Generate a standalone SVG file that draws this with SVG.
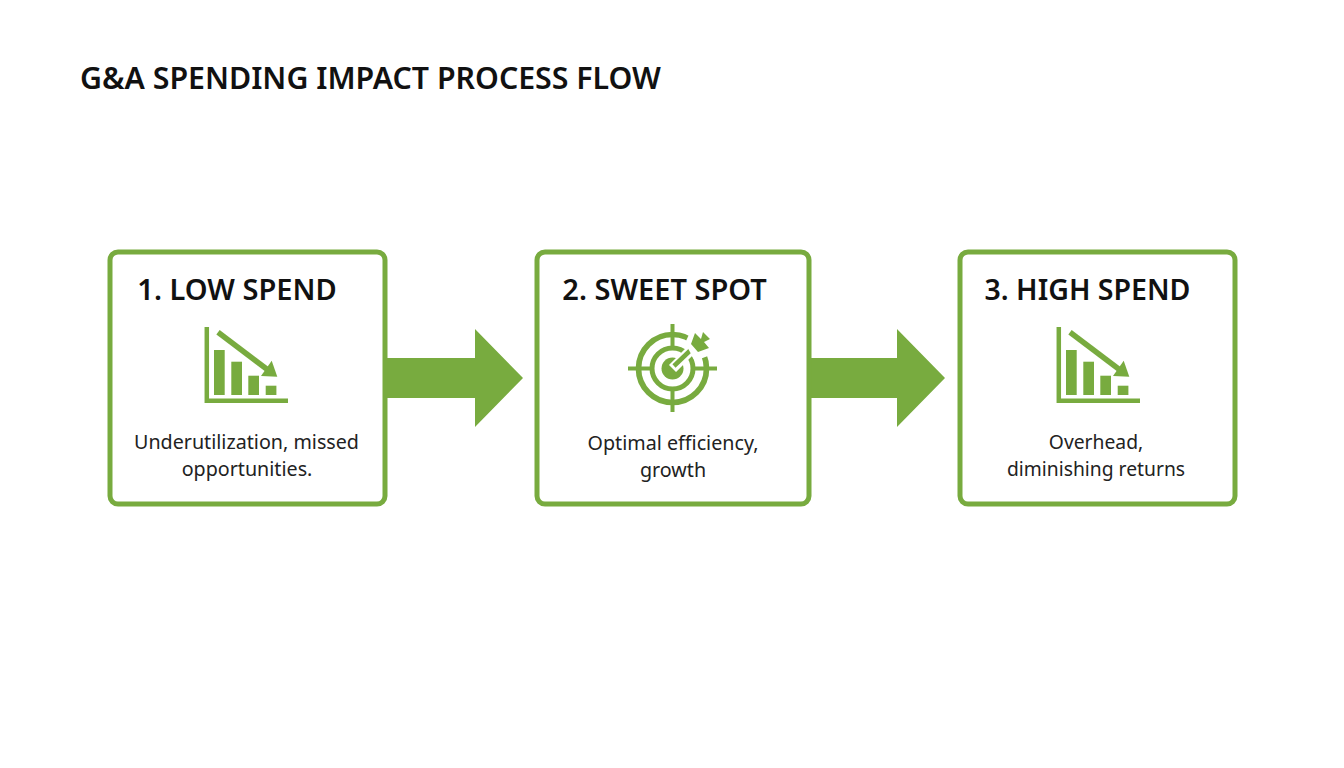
<svg xmlns="http://www.w3.org/2000/svg" width="1344" height="768" viewBox="0 0 1344 768">
<style>
.box{fill:#fff;stroke:#78ab3f;stroke-width:5}
.t{font-family:"Noto Sans","Open Sans",sans-serif;font-size:29px;font-weight:600;fill:#111;text-anchor:middle}
.d{font-family:"Noto Sans","Open Sans",sans-serif;font-size:19.7px;fill:#222;text-anchor:middle}
.g{fill:#78ab3f}
.l{fill:none;stroke:#78ab3f}
</style>
<defs>
<g id="chart">
<path class="l" stroke-width="4.5" d="M-39.2 -52V21.7H42"/>
<rect class="g" x="-32" y="-29" width="10.7" height="45"/>
<rect class="g" x="-14.7" y="-17.3" width="10.7" height="33.3"/>
<rect class="g" x="2.3" y="-3.3" width="10.7" height="19.3"/>
<rect class="g" x="19.7" y="6.7" width="10.7" height="9.3"/>
<path class="l" stroke-width="5.5" d="M-28 -46.7L22 -9"/>
<path class="g" d="M31.3 -2.3L15 -3L25.7 -18.3Z"/>
</g>
</defs>
<rect width="1344" height="768" fill="#fff"/>
<text x="80" y="89" font-family="Noto Sans,Open Sans,sans-serif" font-size="30.3" font-weight="600" fill="#111">G&amp;A SPENDING IMPACT PROCESS FLOW</text>
<g id="connectors">
<path class="g" d="M385 358H475V329L523 378L475 427V398H385Z"/>
<path class="g" d="M808 358H897V329L945 378L897 427V398H808Z"/>
</g>
<g id="node1">
<rect class="box" x="110" y="252" width="275" height="252" rx="8"/>
<text class="t" x="237" y="300">1. LOW SPEND</text>
<use href="#chart" x="246" y="379"/>
<text class="d" x="246.500" y="449">Underutilization, missed</text>
<text class="d" x="247" y="476">opportunities.</text>
</g>
<g id="node2">
<rect class="box" x="537" y="252" width="272" height="252" rx="8"/>
<text class="t" x="664.500" y="300">2. SWEET SPOT</text>
<g id="target">
<circle class="l" cx="672.500" cy="368.500" r="34" stroke-width="5.700"/>
<circle class="l" cx="672.500" cy="368.500" r="20.500" stroke-width="5"/>
<circle class="g" cx="672.500" cy="368.500" r="11"/>
<path class="l" stroke-width="4" d="M628 368.500H650M695 368.500H717M672.500 324V347M672.500 390V412"/>
<path fill="none" stroke="#fff" stroke-width="10" d="M672.500 368.500L700 341"/>
<path class="l" stroke-width="4.500" d="M674 366L697 344"/>
<path fill="#fff" d="M685 343L694 324L720 331L713 354L695 361Z"/>
<path class="g" d="M691 344L695 333L701 339L703 332L710 339L704 342L709 348L698 352Z"/>
</g>
<text class="d" x="673" y="450">Optimal efficiency,</text>
<text class="d" x="673" y="477">growth</text>
</g>
<g id="node3">
<rect class="box" x="960" y="252" width="275" height="252" rx="8"/>
<text class="t" x="1087.500" y="300" style="font-size:28.500px">3. HIGH SPEND</text>
<use href="#chart" x="1098" y="379"/>
<text class="d" x="1096" y="449" style="font-size:19.300px">Overhead,</text>
<text class="d" x="1096" y="476" style="font-size:19.300px">diminishing returns</text>
</g>
</svg>
